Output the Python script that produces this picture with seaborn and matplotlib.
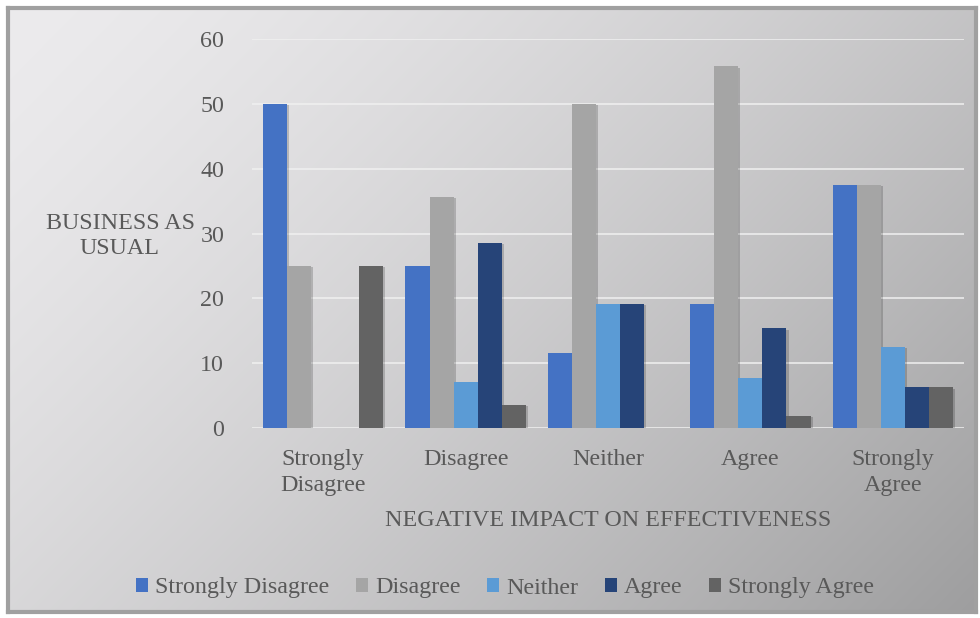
import numpy as np
import pandas as pd
import matplotlib
matplotlib.use("Agg")
import matplotlib.pyplot as plt
import matplotlib.patheffects as pe
from matplotlib.patches import Patch
import seaborn as sns

categories = ["Strongly\nDisagree", "Disagree", "Neither", "Agree", "Strongly\nAgree"]
series = ["Strongly Disagree", "Disagree", "Neither", "Agree", "Strongly Agree"]
strongly_disagree = [50.0, 25.0, 11.5, 19.2, 37.5]
disagree = [25.0, 35.7, 50.0, 55.8, 37.5]
neither = [0.0, 7.1, 19.2, 7.7, 12.5]
agree = [0.0, 28.6, 19.2, 15.4, 6.25]
strongly_agree = [25.0, 3.6, 0.0, 1.9, 6.25]
y_ticks = [0, 10, 20, 30, 40, 50, 60]
colors = ["#4472C4", "#A5A5A5", "#5B9BD5", "#264478", "#636363"]

values = [strongly_disagree, disagree, neither, agree, strongly_agree]
rows = []
for s, vals in zip(series, values):
    for c, v in zip(categories, vals):
        rows.append({"category": c, "series": s, "value": v})
df = pd.DataFrame(rows)

sns.set_theme(style="white")
plt.rcParams['font.family'] = ['Liberation Serif', 'DejaVu Serif']
text_color = "#595959"
fs = 17.3

fig = plt.figure(figsize=(9.8, 6.18), dpi=100)
fig.patch.set_facecolor("white")

# background gradient panel
bg = fig.add_axes([8/980, 6/618, 968/980, 604/618], zorder=0)
ny, nx = 200, 300
xx, yy = np.meshgrid(np.linspace(0, 1, nx), np.linspace(0, 1, ny))
t = 0.62 * xx + 0.38 * yy
light = np.array([236, 235, 237]) / 255
dark = np.array([158, 158, 159]) / 255
w = t[..., None] ** 1.4
img = light[None, None, :] * (1 - w) + dark[None, None, :] * w
bg.imshow(img, aspect="auto", extent=[0, 1, 1, 0], interpolation="bilinear")
bg.set_xlim(0, 1); bg.set_ylim(1, 0)
bg.set_xticks([]); bg.set_yticks([])
for sp in bg.spines.values():
    sp.set_color("#a0a0a0")
    sp.set_linewidth(3)

ax = fig.add_axes([252/980, 1 - 428/618, 712/980, (428 - 39)/618], zorder=1)
ax.patch.set_alpha(0)
sns.barplot(data=df, x="category", y="value", hue="series", palette=colors,
            hue_order=series, order=categories, width=0.845, gap=0,
            saturation=1, ax=ax, legend=False)
for p in ax.patches:
    p.set_path_effects([pe.SimplePatchShadow(offset=(1.5, -1), shadow_rgbFace="#000000", alpha=0.18), pe.Normal()])
    p.set_linewidth(0)

ax.set_ylim(0, 60)
ax.set_yticks(y_ticks)
ax.set_yticklabels([str(v) for v in y_ticks])
ax.set_xlim(-0.5, 4.5)
ax.yaxis.grid(True, color="#f0f0f0", linewidth=1.3, alpha=0.85)
ax.set_axisbelow(True)
for sp in ax.spines.values():
    sp.set_visible(False)
ax.tick_params(axis="y", length=0, pad=20, labelsize=fs, labelcolor=text_color)
ax.tick_params(axis="x", length=0, pad=15, labelsize=fs, labelcolor=text_color)
for lbl in ax.get_xticklabels():
    lbl.set_linespacing(1.35)

ax.set_xlabel("NEGATIVE IMPACT ON EFFECTIVENESS", fontsize=fs, color=text_color, labelpad=10)
ax.set_ylabel("")
fig.text(120/980, 1 - 236/618, "BUSINESS AS\nUSUAL", ha="center", va="center",
         fontsize=fs, color=text_color, linespacing=1.25)

handles = [Patch(facecolor=c, edgecolor="none") for c in colors]
leg = fig.legend(handles, series, loc="center", bbox_to_anchor=(505/980, 1 - 588/618),
                 ncol=5, frameon=False, fontsize=fs, handlelength=0.5, handleheight=0.5,
                 handletextpad=0.3, columnspacing=1.1)
for t_ in leg.get_texts():
    t_.set_color(text_color)

fig.savefig("out.png", dpi=100)
